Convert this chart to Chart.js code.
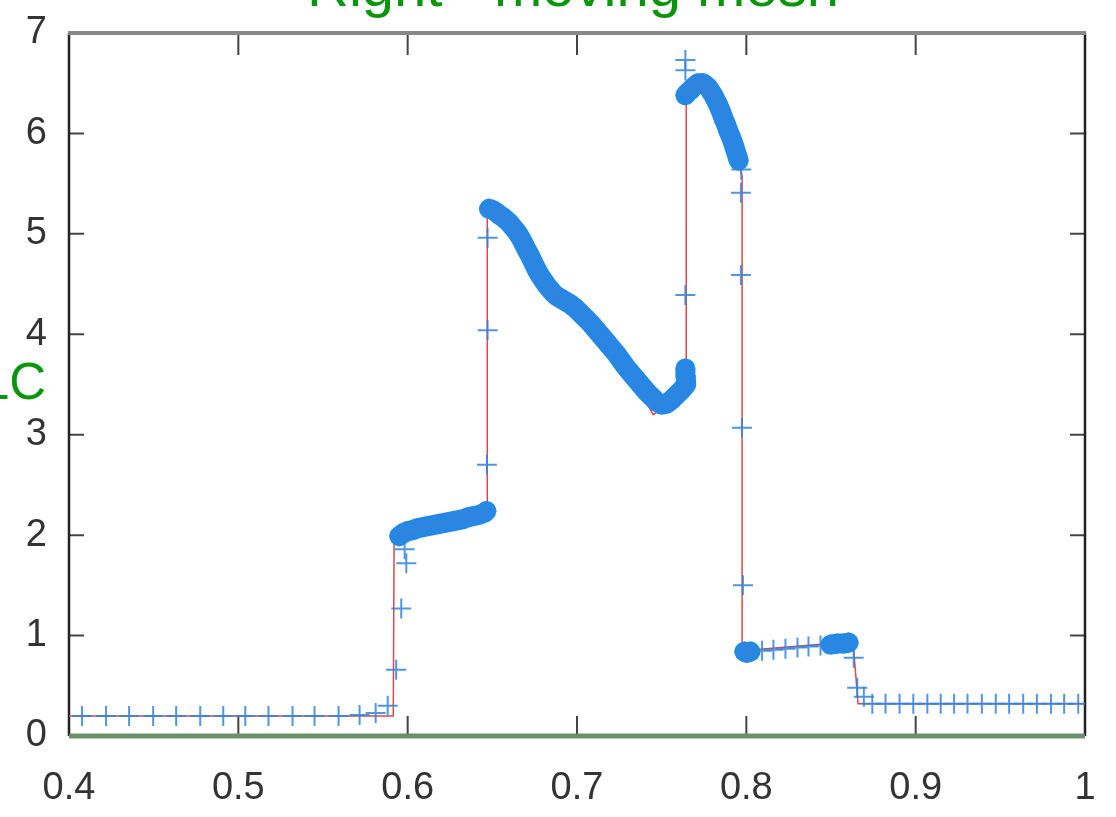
<!DOCTYPE html>
<html>
<head>
<meta charset="utf-8">
<script src="https://cdn.jsdelivr.net/npm/chart.js@4.4.1/dist/chart.umd.min.js"></script>
<style>
  html, body { margin: 0; padding: 0; background: #fff; }
  canvas { display: block; }
</style>
</head>
<body>
<canvas id="chart" width="1116" height="817"></canvas>
<script>
// axis ticks
const xTicks = [0.4, 0.5, 0.6, 0.7, 0.8, 0.9, 1];
const xTickLabels = ['0.4', '0.5', '0.6', '0.7', '0.8', '0.9', '1'];
const yTicks = [0, 1, 2, 3, 4, 5, 6, 7];

// exact solution (red)
const exactX = [0.400, 0.5915, 0.5920, 0.6465, 0.6470, 0.6470, 0.650, 0.655, 0.660, 0.665, 0.670, 0.675, 0.680, 0.685, 0.690, 0.695,
  0.700, 0.705, 0.710, 0.715, 0.720, 0.725, 0.730, 0.735, 0.740, 0.745, 0.7645, 0.7645, 0.770, 0.775, 0.780, 0.785, 0.790, 0.795,
  0.7975, 0.7975, 0.8630, 0.8660, 1.000];
const exactY = [0.20, 0.20, 2.00, 2.22, 2.23, 5.27, 5.24, 5.18, 5.11, 5.01, 4.86, 4.68, 4.54, 4.44, 4.36, 4.31,
  4.24, 4.16, 4.08, 3.98, 3.87, 3.77, 3.65, 3.50, 3.35, 3.20, 3.42, 6.36, 6.48, 6.50, 6.40, 6.22, 6.00, 5.75,
  5.57, 0.85, 0.94, 0.32, 0.32];

// moving mesh solution (blue crosses)
const numX = [
  0.4077, 0.4219, 0.4355, 0.4497, 0.4633, 0.4775, 0.4911, 0.5041, 0.5178, 0.5320, 0.5450, 0.5592, 0.5716, 0.5811, 0.5882,
  0.5932, 0.5962, 0.5992, 0.5982,
  0.5950, 0.5975, 0.6000, 0.6030, 0.6060, 0.6090, 0.6120, 0.6150, 0.6180, 0.6210, 0.6240, 0.6270, 0.6300, 0.6330, 0.6360,
  0.6390, 0.6420, 0.6450, 0.6465,
  0.6468, 0.6472, 0.6472,
  0.6480, 0.6500, 0.6520, 0.6540, 0.6560, 0.6580, 0.6600, 0.6620, 0.6640, 0.6660, 0.6680, 0.6700, 0.6720, 0.6740, 0.6760,
  0.6780, 0.6800, 0.6820, 0.6840, 0.6860, 0.6880, 0.6900, 0.6930, 0.6960, 0.6990, 0.7020, 0.7050, 0.7080, 0.7110, 0.7140,
  0.7170, 0.7200, 0.7230, 0.7260, 0.7290, 0.7320, 0.7350, 0.7380, 0.7410, 0.7440, 0.7470, 0.7500, 0.7530, 0.7560, 0.7590,
  0.7620, 0.7645,
  0.7642, 0.7640, 0.7640, 0.7640, 0.7640,
  0.7640, 0.7655, 0.7670, 0.7685, 0.7700, 0.7715, 0.7730, 0.7745, 0.7760, 0.7775, 0.7790, 0.7805, 0.7820, 0.7835, 0.7850,
  0.7865, 0.7880, 0.7895, 0.7910, 0.7925, 0.7940, 0.7955, 0.7970,
  0.7968, 0.7968, 0.7974, 0.7980,
  0.7988, 0.7998, 0.8010, 0.8024, 0.8093, 0.8160, 0.8231, 0.8302, 0.8367, 0.8438, 0.8497, 0.8537, 0.8574, 0.8604,
  0.8634, 0.8655, 0.8694,
  0.8744, 0.8822, 0.8905, 0.8986, 0.9069, 0.9148, 0.9227, 0.9306, 0.9391, 0.9473, 0.9552, 0.9635, 0.9716, 0.9799, 0.9877, 0.9960
];
const numY = [
  0.20, 0.20, 0.20, 0.20, 0.20, 0.20, 0.20, 0.20, 0.20, 0.20, 0.20, 0.20, 0.21, 0.23, 0.30,
  0.66, 1.27, 1.72, 1.86,
  1.99, 2.02, 2.04, 2.05, 2.07, 2.08, 2.09, 2.10, 2.11, 2.12, 2.13, 2.14, 2.15, 2.16, 2.18,
  2.19, 2.20, 2.22, 2.24,
  2.70, 4.04, 4.96,
  5.25, 5.24, 5.22, 5.19, 5.17, 5.14, 5.11, 5.07, 5.03, 4.98, 4.92, 4.85, 4.79, 4.72, 4.65,
  4.59, 4.54, 4.49, 4.45, 4.41, 4.38, 4.36, 4.33, 4.30, 4.26, 4.21, 4.16, 4.11, 4.05, 3.99,
  3.93, 3.87, 3.81, 3.74, 3.67, 3.61, 3.55, 3.49, 3.43, 3.38, 3.33, 3.30, 3.31, 3.35, 3.40,
  3.45, 3.50,
  3.58, 3.66, 4.39, 6.73, 6.63,
  6.38, 6.41, 6.43, 6.46, 6.48, 6.50, 6.50, 6.50, 6.48, 6.46, 6.42, 6.38, 6.33, 6.28, 6.22,
  6.15, 6.09, 6.02, 5.96, 5.89, 5.81, 5.73, 5.64,
  5.41, 4.59, 3.07, 1.50,
  0.84, 0.83, 0.83, 0.84, 0.85, 0.86, 0.87, 0.88, 0.89, 0.90, 0.91, 0.92, 0.92, 0.93,
  0.78, 0.48, 0.39,
  0.32, 0.32, 0.32, 0.32, 0.32, 0.32, 0.32, 0.32, 0.32, 0.32, 0.32, 0.32, 0.32, 0.32, 0.32, 0.32
];

// zero line (green)
const zeroX = [0.4, 1];
const zeroY = [0, 0];

const FONT = "'Liberation Sans', Arial, Helvetica, sans-serif";
const BLUE = '#2289e6';

const pairs = (xs, ys) => xs.map((x, i) => ({ x: x, y: ys[i] }));

// thick band only between points that sit close together on screen
const close = c => Math.hypot(c.p1.x - c.p0.x, c.p1.y - c.p0.y) < 9;

const framePlugin = {
  id: 'frame',
  beforeDatasetsDraw(chart) {
    const { ctx, chartArea: a, scales } = chart;
    ctx.save();
    ctx.strokeStyle = '#444';
    ctx.lineWidth = 2;
    ctx.beginPath();
    xTicks.forEach(v => {
      const px = scales.x.getPixelForValue(v);
      ctx.moveTo(px, a.bottom); ctx.lineTo(px, a.bottom - 20);
      ctx.moveTo(px, a.top); ctx.lineTo(px, a.top + 22);
    });
    yTicks.forEach(v => {
      const py = scales.y.getPixelForValue(v);
      ctx.moveTo(a.left, py); ctx.lineTo(a.left + 15, py);
      ctx.moveTo(a.right, py); ctx.lineTo(a.right - 15, py);
    });
    ctx.stroke();

    ctx.strokeStyle = '#222';
    ctx.lineWidth = 2.5;
    ctx.beginPath();
    ctx.moveTo(a.left, a.top); ctx.lineTo(a.left, a.bottom);
    ctx.moveTo(a.right, a.top); ctx.lineTo(a.right, a.bottom);
    ctx.moveTo(a.left, a.bottom); ctx.lineTo(a.right, a.bottom);
    ctx.stroke();

    ctx.strokeStyle = '#888';
    ctx.lineWidth = 4;
    ctx.beginPath();
    ctx.moveTo(a.left - 1, a.top); ctx.lineTo(a.right + 1, a.top);
    ctx.stroke();
    ctx.restore();
  },
  afterDraw(chart) {
    const ctx = chart.ctx;
    ctx.save();
    ctx.fillStyle = '#0a960a';
    ctx.font = '58px ' + FONT;
    ctx.textAlign = 'center';
    ctx.textBaseline = 'alphabetic';
    ctx.fillText('Right - moving mesh', 573, 6);
    ctx.font = '51px ' + FONT;
    ctx.textAlign = 'right';
    ctx.fillText('LC', 46, 399);
    ctx.restore();
  }
};

new Chart(document.getElementById('chart'), {
  type: 'scatter',
  data: {
    datasets: [
      {
        label: 'moving mesh',
        data: pairs(numX, numY),
        showLine: true,
        borderColor: BLUE,
        borderWidth: 20,
        borderCapStyle: 'round',
        borderJoinStyle: 'round',
        segment: {
          borderColor: c => close(c) ? BLUE : 'rgba(0,0,0,0)'
        },
        pointStyle: 'cross',
        pointRadius: 10,
        pointBorderWidth: 2,
        pointBorderColor: 'rgba(50,132,222,0.85)',
        pointBackgroundColor: 'rgba(0,0,0,0)'
      },
      {
        label: 'exact',
        data: pairs(exactX, exactY),
        showLine: true,
        borderColor: '#e04848',
        borderWidth: 1.5,
        pointRadius: 0
      },
      {
        label: 'zero',
        data: pairs(zeroX, zeroY),
        showLine: true,
        clip: false,
        borderColor: '#6b8f6b',
        borderWidth: 5,
        pointRadius: 0
      }
    ]
  },
  options: {
    responsive: false,
    animation: false,
    devicePixelRatio: 1,
    layout: { padding: { top: 33, right: 31, left: 0, bottom: 0 } },
    plugins: {
      legend: { display: false },
      tooltip: { enabled: false }
    },
    scales: {
      x: {
        type: 'linear',
        min: 0.4,
        max: 1,
        afterBuildTicks: s => { s.ticks = xTicks.map(v => ({ value: v })); },
        afterFit: s => { s.height = 81; s.paddingLeft = 0; s.paddingRight = 0; },
        grid: { display: false, drawTicks: false },
        border: { display: false },
        ticks: {
          callback: (v, i) => xTickLabels[i],
          font: { size: 38, family: FONT },
          color: '#333',
          padding: 30,
          maxRotation: 0,
          autoSkip: false
        }
      },
      y: {
        type: 'linear',
        min: 0,
        max: 7,
        afterBuildTicks: s => { s.ticks = yTicks.map(v => ({ value: v })); },
        afterFit: s => { s.width = 69; s.paddingTop = 0; s.paddingBottom = 0; },
        grid: { display: false, drawTicks: false },
        border: { display: false },
        ticks: {
          callback: v => String(v),
          font: { size: 38, family: FONT },
          color: '#333',
          padding: 22
        }
      }
    }
  },
  plugins: [framePlugin]
});
</script>
</body>
</html>
